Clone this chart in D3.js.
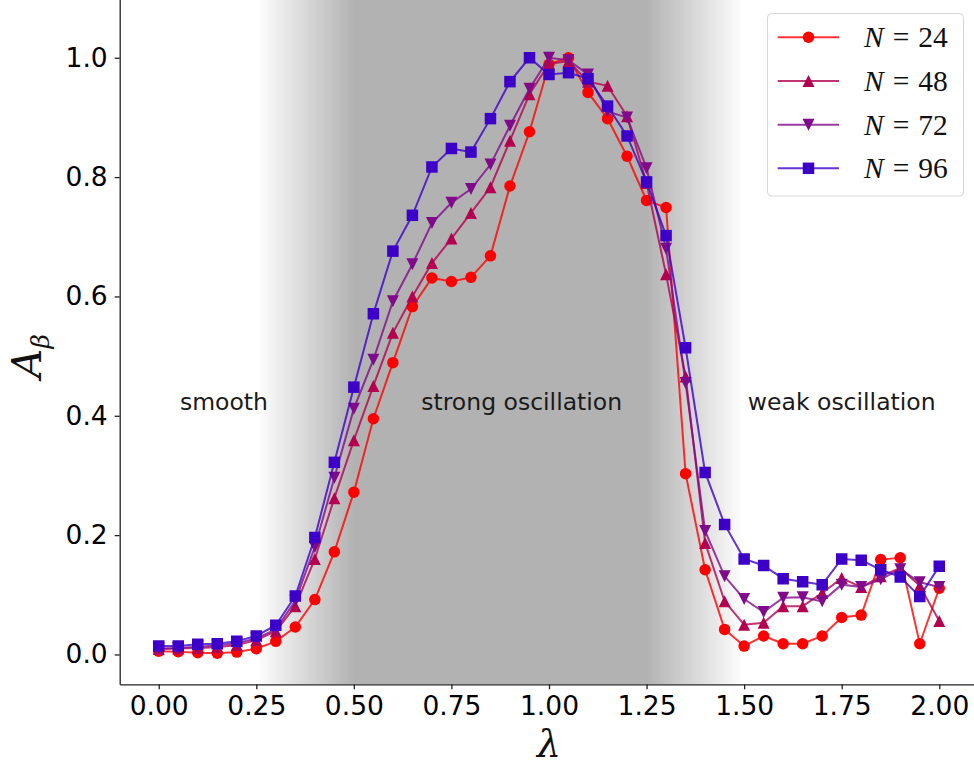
<!DOCTYPE html>
<html lang="en">
<head>
<meta charset="UTF-8">
<title>A_beta vs lambda</title>
<script src="https://d3js.org/d3.v7.min.js"></script>
<style>
  body { margin: 0; background: #fff; }
  svg { display: block; }
</style>
</head>
<body>
<div id="chart"></div>
<script>
// lambda grid (x values)
const lambdas = [0.00, 0.05, 0.10, 0.15, 0.20, 0.25, 0.30, 0.35, 0.40, 0.45,
                 0.50, 0.55, 0.60, 0.65, 0.70, 0.75, 0.80, 0.85, 0.90, 0.95,
                 1.00, 1.05, 1.10, 1.15, 1.20, 1.25, 1.30, 1.35, 1.40, 1.45,
                 1.50, 1.55, 1.60, 1.65, 1.70, 1.75, 1.80, 1.85, 1.90, 1.95, 2.00];

const n24 = [0.0055, 0.0045, 0.003, 0.002, 0.004, 0.0095, 0.022, 0.046, 0.092, 0.172,
             0.272, 0.395, 0.489, 0.583, 0.631, 0.625, 0.632, 0.668, 0.785, 0.876,
             0.989, 1.0, 0.942, 0.898, 0.835, 0.761, 0.749, 0.303, 0.142, 0.042,
             0.014, 0.031, 0.018, 0.018, 0.031, 0.062, 0.066, 0.159, 0.162, 0.018, 0.111];
const n48 = [0.009, 0.010, 0.011, 0.012, 0.016, 0.024, 0.039, 0.081, 0.160, 0.262,
             0.359, 0.450, 0.539, 0.600, 0.656, 0.697, 0.740, 0.783, 0.861, 0.939,
             0.990, 0.994, 0.960, 0.953, 0.902, 0.790, 0.637, 0.466, 0.187, 0.089,
             0.050, 0.053, 0.081, 0.081, 0.103, 0.128, 0.113, 0.131, 0.145, 0.115, 0.056];
const n72 = [0.010, 0.011, 0.013, 0.015, 0.019, 0.027, 0.042, 0.090, 0.180, 0.296,
             0.412, 0.494, 0.592, 0.654, 0.723, 0.757, 0.780, 0.821, 0.886, 0.948,
             1.0, 0.996, 0.972, 0.910, 0.900, 0.815, 0.680, 0.455, 0.207, 0.131,
             0.093, 0.071, 0.095, 0.096, 0.089, 0.117, 0.113, 0.126, 0.143, 0.121, 0.113];
const n96 = [0.014, 0.014, 0.017, 0.018, 0.022, 0.031, 0.049, 0.098, 0.196, 0.322,
             0.448, 0.571, 0.676, 0.736, 0.817, 0.848, 0.842, 0.898, 0.960, 1.0,
             0.972, 0.975, 0.965, 0.919, 0.869, 0.792, 0.702, 0.514, 0.305, 0.218,
             0.160, 0.149, 0.127, 0.122, 0.117, 0.160, 0.158, 0.142, 0.130, 0.097, 0.148];

const seriesNames = ["24", "48", "72", "96"];
const seriesValues = [n24, n48, n72, n96];
const seriesColors = ["#ff0000", "#b3004f", "#7f0a8a", "#3c00c8"];
const seriesMarkers = ["circle", "triangleUp", "triangleDown", "square"];

const xTicks = [0, 0.25, 0.5, 0.75, 1.0, 1.25, 1.5, 1.75, 2.0];
const yTicks = [0, 0.2, 0.4, 0.6, 0.8, 1.0];

// regime shading: [start of fade-in, full, start of fade-out, end]
const shadeEdges = [0.25, 0.5, 1.25, 1.5];
const regimes = [
  { label: "smooth", x: 0.167 },
  { label: "strong oscillation", x: 0.93 },
  { label: "weak oscillation", x: 1.75 }
];
const regimeLabelY = 0.41;

const W = 974, H = 767;
const x = d3.scaleLinear().domain([-0.1, 2.1]).range([119.7, 978.3]);
const y = d3.scaleLinear().domain([-0.05, 1.1]).range([684.3, -1.9]);

const svg = d3.select("#chart").append("svg")
  .attr("width", W).attr("height", H);

const defs = svg.append("defs");
defs.append("clipPath").attr("id", "plotclip")
  .append("rect")
  .attr("x", x(-0.1)).attr("y", y(1.1))
  .attr("width", x(2.1) - x(-0.1)).attr("height", y(-0.05) - y(1.1));

// horizontal gradient for the shaded region
const grad = defs.append("linearGradient").attr("id", "shade")
  .attr("gradientUnits", "userSpaceOnUse")
  .attr("x1", x(shadeEdges[0])).attr("x2", x(shadeEdges[3]))
  .attr("y1", 0).attr("y2", 0);
const span = shadeEdges[3] - shadeEdges[0];
const gray = "#b2b2b2";
[[shadeEdges[0], "#ffffff"], [shadeEdges[1], gray], [shadeEdges[2], gray], [shadeEdges[3], "#ffffff"]]
  .forEach(([v, c]) => grad.append("stop")
    .attr("offset", (v - shadeEdges[0]) / span).attr("stop-color", c));

const plot = svg.append("g").attr("clip-path", "url(#plotclip)");

plot.append("rect")
  .attr("x", x(shadeEdges[0])).attr("width", x(shadeEdges[3]) - x(shadeEdges[0]))
  .attr("y", y(1.1)).attr("height", y(-0.05) - y(1.1))
  .attr("fill", "url(#shade)");

// region labels
plot.selectAll("text.regime")
  .data(regimes)
  .join("text")
  .attr("class", "regime")
  .attr("x", d => x(d.x))
  .attr("y", y(regimeLabelY))
  .attr("text-anchor", "middle")
  .attr("font-family", "DejaVu Sans")
  .attr("font-size", "23.5px")
  .attr("fill", "#1a1a1a")
  .text(d => d.label);

// marker shapes
function markerPath(type, s) {
  const h = s / 2;
  if (type === "triangleUp") return `M0,${-h}L${h},${h}L${-h},${h}Z`;
  if (type === "triangleDown") return `M0,${h}L${h},${-h}L${-h},${-h}Z`;
  if (type === "square") return `M${-h},${-h}H${h}V${h}H${-h}Z`;
  return d3.arc()({ innerRadius: 0, outerRadius: h, startAngle: 0, endAngle: 2 * Math.PI });
}
const markerSize = { circle: 11.5, triangleUp: 12, triangleDown: 12, square: 11.5 };

const line = d3.line().x(d => x(d[0])).y(d => y(d[1]));

seriesValues.forEach((vals, i) => {
  const pts = lambdas.map((l, j) => [l, vals[j]]);
  const g = plot.append("g");
  g.append("path")
    .datum(pts)
    .attr("d", line)
    .attr("fill", "none")
    .attr("stroke", seriesColors[i])
    .attr("stroke-opacity", 0.8)
    .attr("stroke-width", 2);
  g.selectAll("path.m")
    .data(pts)
    .join("path")
    .attr("class", "m")
    .attr("transform", d => `translate(${x(d[0])},${y(d[1])})`)
    .attr("d", markerPath(seriesMarkers[i], markerSize[seriesMarkers[i]]))
    .attr("fill", seriesColors[i]);
});

// axes
const xAxis = svg.append("g")
  .attr("transform", `translate(0,${y(-0.05)})`)
  .call(d3.axisBottom(x).tickValues(xTicks).tickFormat(d3.format(".2f"))
    .tickSizeInner(5).tickSizeOuter(0).tickPadding(7));
const yAxis = svg.append("g")
  .attr("transform", `translate(${x(-0.1)},0)`)
  .call(d3.axisLeft(y).tickValues(yTicks).tickFormat(d3.format(".1f"))
    .tickSizeInner(5).tickSizeOuter(0).tickPadding(7));

[xAxis, yAxis].forEach(ax => {
  ax.select(".domain").attr("stroke", "#222").attr("stroke-width", 1.3);
  ax.selectAll(".tick line").attr("stroke", "#222").attr("stroke-width", 1.3);
  ax.selectAll(".tick text")
    .attr("font-family", "DejaVu Sans")
    .attr("font-size", "26.5px")
    .attr("fill", "#000");
});

// axis titles
svg.append("text")
  .attr("x", x(1.0)).attr("y", 757)
  .attr("text-anchor", "middle")
  .attr("font-family", "DejaVu Serif")
  .attr("font-style", "italic")
  .attr("font-size", "38px")
  .attr("fill", "#111")
  .text("λ");

const ylab = svg.append("text")
  .attr("transform", `translate(41,${y(0.5)}) rotate(-90)`)
  .attr("text-anchor", "middle")
  .attr("font-family", "DejaVu Serif")
  .attr("fill", "#111");
ylab.append("tspan").attr("font-style", "italic").attr("font-size", "41px").text("A");
ylab.append("tspan").attr("font-style", "italic").attr("font-size", "25px").attr("dy", 8).text("β");

// legend
const legend = svg.append("g");
legend.append("rect")
  .attr("x", 767.5).attr("y", 13.5).attr("width", 196).attr("height", 182.5)
  .attr("rx", 4).attr("fill", "#fff").attr("fill-opacity", 0.9)
  .attr("stroke", "#d6d6d6").attr("stroke-width", 1);

const rowY = d3.scaleLinear().domain([0, 3]).range([37.3, 168.3]);
seriesNames.forEach((n, i) => {
  const ry = rowY(i);
  legend.append("line")
    .attr("x1", 777.7).attr("x2", 839).attr("y1", ry).attr("y2", ry)
    .attr("stroke", seriesColors[i]).attr("stroke-opacity", 0.8).attr("stroke-width", 2);
  legend.append("path")
    .attr("transform", `translate(808.5,${ry})`)
    .attr("d", markerPath(seriesMarkers[i], markerSize[seriesMarkers[i]]))
    .attr("fill", seriesColors[i]);
  const t = legend.append("text")
    .attr("x", 864).attr("y", ry + 10)
    .attr("font-family", "Liberation Serif")
    .attr("font-size", "29.5px")
    .attr("fill", "#111");
  t.append("tspan").attr("font-style", "italic").text("N");
  t.append("tspan").attr("dx", 9).text("=");
  t.append("tspan").attr("dx", 9).text(n);
});
</script>
</body>
</html>
